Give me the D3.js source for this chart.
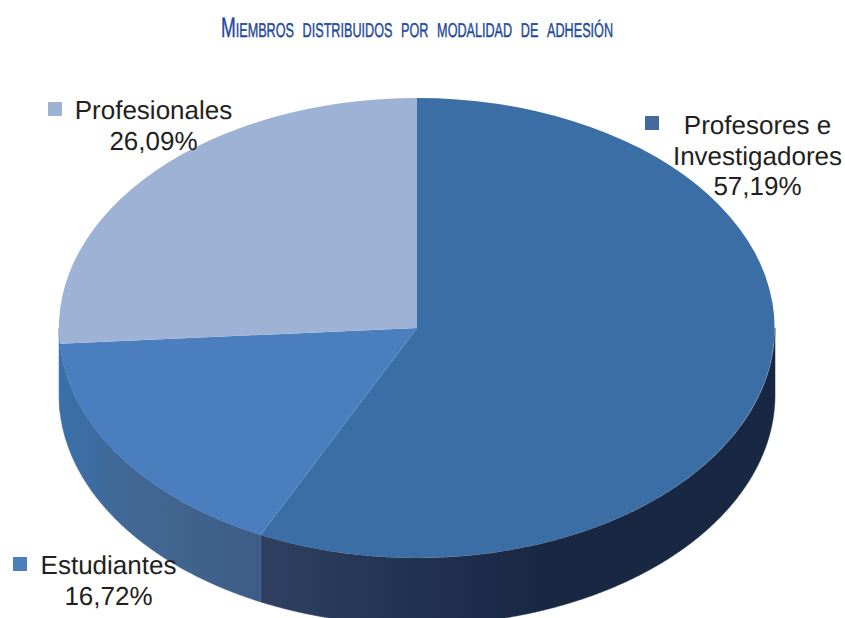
<!DOCTYPE html>
<html lang="es">
<head>
    <meta charset="UTF-8">
    <title>Miembros distribuidos por modalidad de adhesión</title>
    <style>
        html, body { margin: 0; padding: 0; background: #fff; overflow: hidden; }
        svg { display: block; }
        .label { font-family: "Liberation Sans", Arial, sans-serif; font-size: 26px; fill: #231f20; text-rendering: geometricPrecision; }
        .title { font-family: "Liberation Sans Narrow", "Liberation Sans", sans-serif; fill: #1f4a9c; stroke: #1f4a9c; stroke-width: 0.45px; font-variant: small-caps; word-spacing: 6px; text-rendering: geometricPrecision; }
    </style>
</head>
<body>
    <svg></svg>
    <script src="https://d3js.org/d3.v7.min.js"></script>
    <script>
let width = 845, height = 618;

// values, in drawing order (clockwise from 12 o'clock)
let categories = ["Profesores e Investigadores", "Estudiantes", "Profesionales"];
let shares = [57.19, 16.72, 26.09];
let shareLabels = ["57,19%", "16,72%", "26,09%"];
let colors = ["#3b6ea5", "#4a7ebf", "#9db2d5"];
let sideStops = [
    [["#2f4062", 0], ["#1d2d4b", 0.4], ["#182742", 0.55], ["#182742", 1]],
    [["#3a70a8", 0], ["#3c6da3", 0.12], ["#416997", 0.3], ["#40658f", 0.55], ["#3e5c88", 1]],
    [["#3a70a8", 0], ["#3a70a8", 1]]
];

let cx = 417, cy = 328, rx = 358, ry = 230, depth = 67;

let svg = d3.select("svg")
    .attr("width", width)
    .attr("height", height);

svg.append("text")
    .attr("class", "title")
    .attr("x", 417)
    .attr("y", 37)
    .attr("text-anchor", "middle")
    .attr("font-size", 28)
    .attr("textLength", 392)
    .attr("lengthAdjust", "spacingAndGlyphs")
    .text("Miembros distribuidos por modalidad de adhesión");

let pie = d3.pie().sort(null).value(d => d);
let arcs = pie(shares);

// unit circle, squashed into the ellipse by scales
let x = d3.scaleLinear().domain([-1, 1]).range([cx - rx, cx + rx]);
let y = d3.scaleLinear().domain([-1, 1]).range([cy - ry, cy + ry]);
let ringPoint = (a, dy) => [x(Math.sin(a)), y(-Math.cos(a)) + dy];

let defs = svg.append("defs");
let line = d3.line();

// front wall first, only the part facing the viewer
arcs.forEach((d, i) => {
    let a0 = Math.max(d.startAngle, Math.PI / 2);
    let a1 = Math.min(d.endAngle, 3 * Math.PI / 2);
    if (a1 <= a0) return;
    let angles = d3.range(a0, a1, 0.005).concat([a1]);
    let top = angles.map(a => ringPoint(a, 0));
    let bottom = angles.map(a => ringPoint(a, depth)).reverse();

    let xs = top.map(p => p[0]);
    let grad = defs.append("linearGradient")
        .attr("id", "side" + i)
        .attr("gradientUnits", "userSpaceOnUse")
        .attr("x1", d3.min(xs))
        .attr("x2", d3.max(xs))
        .attr("y1", 0)
        .attr("y2", 0);
    sideStops[i].forEach(s => {
        grad.append("stop").attr("offset", s[1]).attr("stop-color", s[0]);
    });

    svg.append("path")
        .attr("d", line(top.concat(bottom)) + "Z")
        .attr("fill", "url(#side" + i + ")")
        .attr("stroke", "url(#side" + i + ")")
        .attr("stroke-width", 0.5);
});

let arc = d3.arc().innerRadius(0).outerRadius(1);
svg.append("g")
    .attr("transform", `translate(${cx},${cy}) scale(${rx},${ry})`)
    .selectAll("path")
    .data(arcs)
    .enter()
    .append("path")
        .attr("d", arc)
        .attr("fill", (d, i) => colors[i]);

// labels with their little square keys
let labels = [
    { i: 0, lines: ["Profesores e", "Investigadores", shareLabels[0]], cx: 757.5, y: 134, lh: 30.5, key: [645, 116] },
    { i: 1, lines: ["Estudiantes", shareLabels[1]], cx: 108.5, y: 574, lh: 31, key: [13, 557] },
    { i: 2, lines: ["Profesionales", shareLabels[2]], cx: 153.5, y: 119, lh: 31, key: [48, 102] }
];

labels.forEach(l => {
    svg.append("rect")
        .attr("x", l.key[0])
        .attr("y", l.key[1])
        .attr("width", 14)
        .attr("height", 14)
        .attr("fill", l.i == 0 ? "#44699f" : colors[l.i]);
    let t = svg.append("text")
        .attr("class", "label")
        .attr("text-anchor", "middle");
    l.lines.forEach((s, k) => {
        t.append("tspan")
            .attr("x", l.cx)
            .attr("y", l.y + k * l.lh)
            .text(s);
    });
});
    </script>
</body>
</html>
